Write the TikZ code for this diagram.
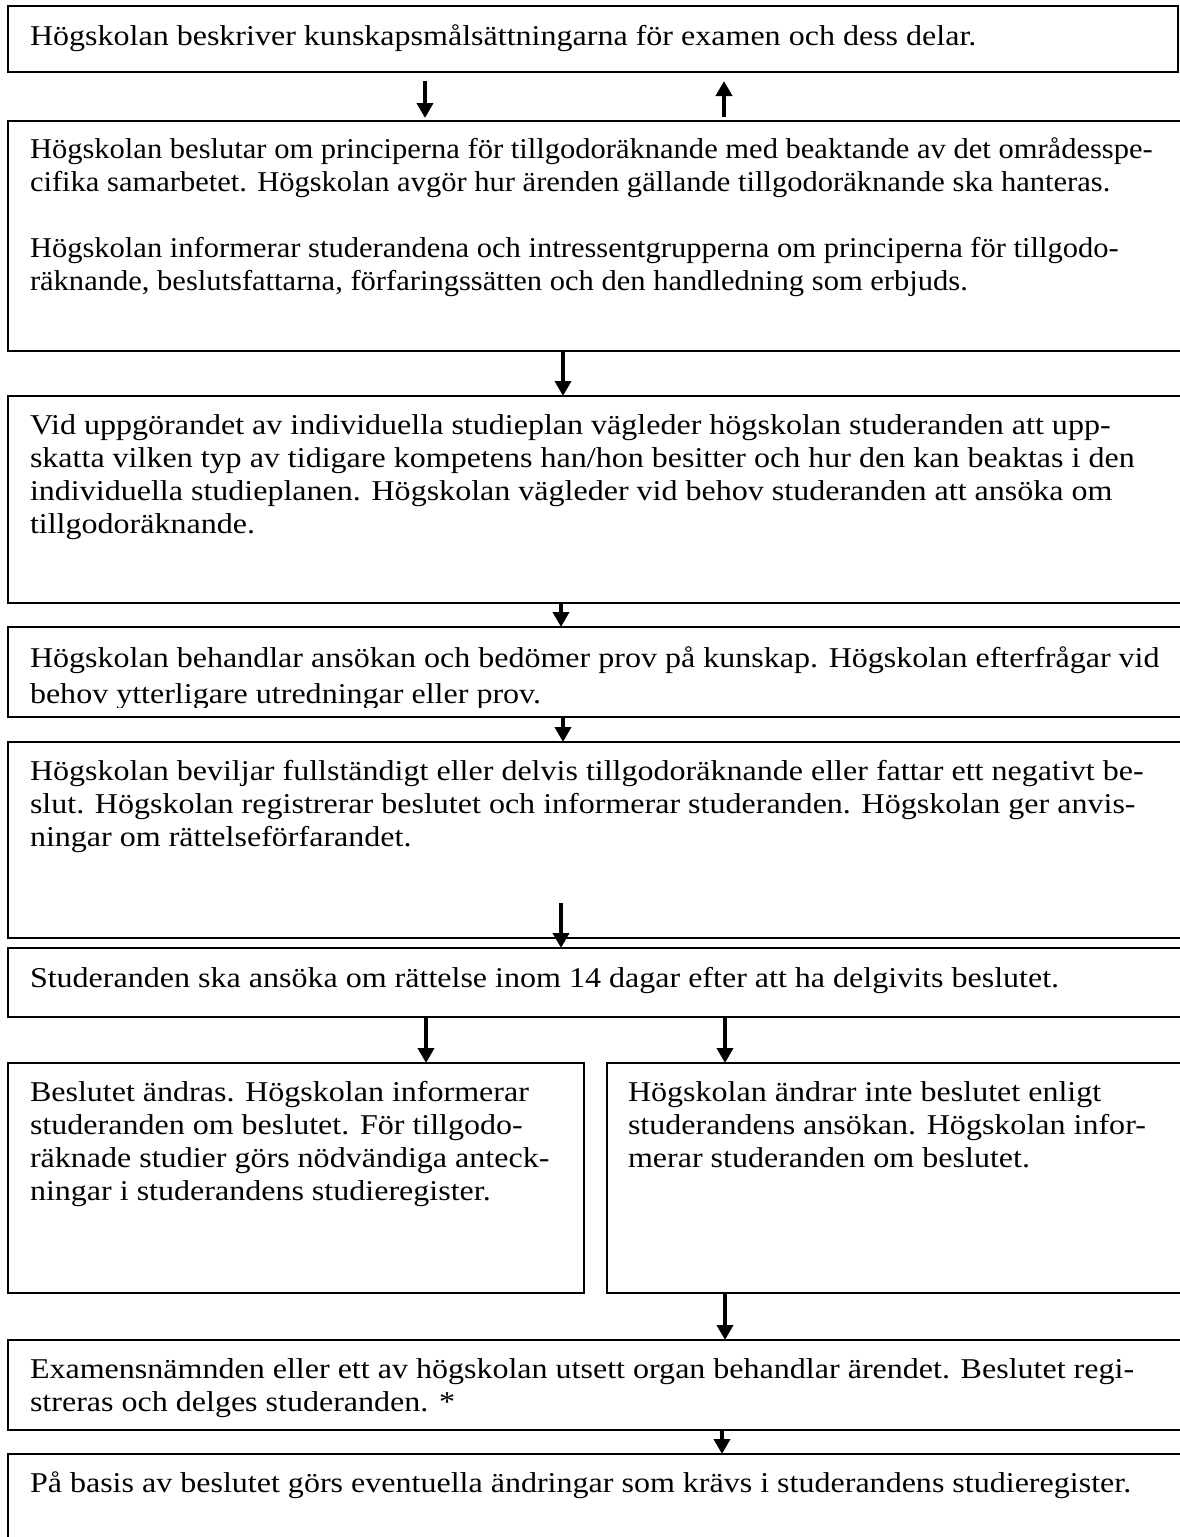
\documentclass[tikz,border=0pt]{standalone}
\usepackage{fontspec}
\setmainfont[FakeStretch=1.116]{Liberation Serif}
\newfontfamily\narrowserif[FakeStretch=1.064]{Liberation Serif}
\usetikzlibrary{arrows.meta}
\newcommand\tline[1]{\hbox{#1}}
\tikzset{
  box/.style={draw, line width=1.7pt, rectangle, anchor=north west, inner sep=0pt, outer sep=0pt},
  txt/.style={anchor=base west, inner sep=0pt, outer sep=0pt, font=\fontsize{28.7}{33}\selectfont},
  arr/.style={line width=4pt, -{Triangle[length=15pt, width=16pt]}},
}
\begin{document}
\begin{tikzpicture}[x=1pt, y=-1pt]
\path[use as bounding box, clip] (0,0) rectangle (1180,1537);
\fill[white] (0,0) rectangle (1180,1537);
% boxes
\node[box, minimum width=1170pt, minimum height=66pt]  (b1)  at (8,6) {};
\node[box, minimum width=1220pt, minimum height=230pt] (b2)  at (8,121) {};
\node[box, minimum width=1220pt, minimum height=207pt] (b3)  at (8,396) {};
\node[box, minimum width=1220pt, minimum height=90pt]  (b4)  at (8,627) {};
\node[box, minimum width=1220pt, minimum height=196pt] (b5)  at (8,742) {};
\node[box, minimum width=1220pt, minimum height=69pt]  (b6)  at (8,948) {};
\node[box, minimum width=576pt,  minimum height=230pt] (b7)  at (8,1063) {};
\node[box, minimum width=620pt,  minimum height=230pt] (b8)  at (607,1063) {};
\node[box, minimum width=1220pt, minimum height=90pt]  (b9)  at (8,1340) {};
\node[box, minimum width=1220pt, minimum height=200pt] (b10) at (8,1454) {};
% texts
\node[txt] (t1) at (30,45) {Högskolan beskriver kunskapsmålsättningarna för examen och dess delar.};
\node[txt, font=\narrowserif\fontsize{28.7}{33}\selectfont] (t2) at (30,158) {\vtop{%
\tline{Högskolan beslutar om principerna för tillgodoräknande med beaktande av det områdesspe-}
\tline{cifika samarbetet. Högskolan avgör hur ärenden gällande tillgodoräknande ska hanteras.}
\vskip33pt
\tline{Högskolan informerar studerandena och intressentgrupperna om principerna för tillgodo-}
\tline{räknande, beslutsfattarna, förfaringssätten och den handledning som erbjuds.}}};
\node[txt] (t3) at (30,434) {\vtop{%
\tline{Vid uppgörandet av individuella studieplan vägleder högskolan studeranden att upp-}
\tline{skatta vilken typ av tidigare kompetens han/hon besitter och hur den kan beaktas i den}
\tline{individuella studieplanen. Högskolan vägleder vid behov studeranden att ansöka om}
\tline{tillgodoräknande.}}};
\begin{scope}
\clip (0,627) rectangle (1180,707);
\node[txt, font=\fontsize{28.7}{36}\selectfont] (t4) at (30,667) {\vtop{%
\tline{Högskolan behandlar ansökan och bedömer prov på kunskap. Högskolan efterfrågar vid}
\tline{behov ytterligare utredningar eller prov.}}};
\end{scope}
\node[txt] (t5) at (30,780) {\vtop{%
\tline{Högskolan beviljar fullständigt eller delvis tillgodoräknande eller fattar ett negativt be-}
\tline{slut. Högskolan registrerar beslutet och informerar studeranden. Högskolan ger anvis-}
\tline{ningar om rättelseförfarandet.}}};
\node[txt] (t6) at (30,987) {Studeranden ska ansöka om rättelse inom 14 dagar efter att ha delgivits beslutet.};
\node[txt] (t7) at (30,1101) {\vtop{%
\tline{Beslutet ändras. Högskolan informerar}
\tline{studeranden om beslutet. För tillgodo-}
\tline{räknade studier görs nödvändiga anteck-}
\tline{ningar i studerandens studieregister.}}};
\node[txt] (t8) at (628,1101) {\vtop{%
\tline{Högskolan ändrar inte beslutet enligt}
\tline{studerandens ansökan. Högskolan infor-}
\tline{merar studeranden om beslutet.}}};
\node[txt] (t9) at (30,1378) {\vtop{%
\tline{Examensnämnden eller ett av högskolan utsett organ behandlar ärendet. Beslutet regi-}
\tline{streras och delges studeranden. *}}};
\node[txt] (t10) at (30,1492) {På basis av beslutet görs eventuella ändringar som krävs i studerandens studieregister.};
% arrow x positions
\coordinate (xa) at (425,0);
\coordinate (xb) at (724,0);
\coordinate (xc) at (563,0);
\coordinate (xd) at (561,0);
\coordinate (xe) at (426,0);
\coordinate (xf) at (725,0);
\coordinate (xg) at (722,0);
\coordinate (s5) at (561,903);
% connectors
\draw[arr, shorten <=9pt, shorten >=3pt] (b1.south -| xa) -- (b2.north -| xa);
\draw[arr, shorten <=4pt, shorten >=9pt] (b2.north -| xb) -- (b1.south -| xb);
\draw[arr] (b2.south -| xc) -- (b3.north -| xc);
\draw[arr] (b3.south -| xd) -- (b4.north -| xd);
\draw[arr] (b4.south -| xc) -- (b5.north -| xc);
\draw[arr] (s5) -- (b6.north -| s5);
\draw[arr] (b6.south -| xe) -- (b7.north -| xe);
\draw[arr] (b6.south -| xf) -- (b8.north -| xf);
\draw[arr] (b8.south -| xf) -- (b9.north -| xf);
\draw[arr] (b9.south -| xg) -- (b10.north -| xg);
\end{tikzpicture}
\end{document}
